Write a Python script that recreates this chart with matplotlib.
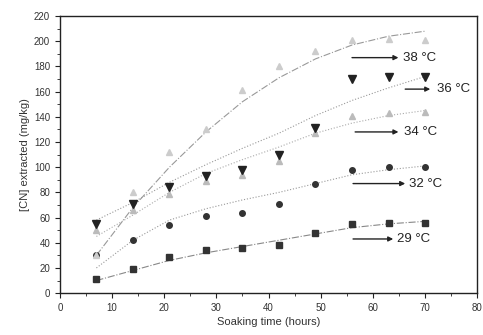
import numpy as np
import matplotlib
matplotlib.use("Agg")
import matplotlib.pyplot as plt
from matplotlib.ticker import MultipleLocator

plt.rcParams['font.family'] = ['Liberation Sans', 'DejaVu Sans']

# soaking time (hours)
t = [7, 14, 21, 28, 35, 42, 49, 56, 63, 70]

# measured [CN] extracted (mg/kg)
cn_29 = [11, 19, 29, 34, 36, 38, 48, 55, 56, 56]
cn_32 = [30, 42, 54, 61, 64, 71, 87, 98, 100, 100]
cn_34 = [50, 66, 79, 89, 94, 105, 127, 141, 143, 144]
cn_36 = [55, 71, 84, 93, 98, 110, 131, 170, 172, 172]
cn_38 = [30, 80, 112, 130, 161, 180, 192, 201, 202, 201]

# fitted curves
fit_29 = [10, 18, 26, 32, 37, 42, 47, 52, 55, 57]
fit_32 = [20, 42, 58, 67, 74, 80, 87, 94, 98, 101]
fit_34 = [45, 62, 80, 95, 106, 116, 127, 135, 141, 145]
fit_36 = [58, 72, 88, 102, 115, 127, 141, 153, 163, 172]
fit_38 = [30, 68, 100, 128, 152, 171, 186, 197, 204, 208]

labels = ['29 °C', '32 °C', '34 °C', '36 °C', '38 °C']
# arrow start x, arrow end x, y, text x
arrow_x0 = [56.2, 56.2, 56.6, 66.2, 56.0]
arrow_x1 = [63.9, 66.2, 64.9, 71.0, 64.9]
arrow_y = [43, 87, 128, 162, 187]
text_x = [64.6, 67.0, 66.0, 72.2, 65.8]

fig = plt.figure(figsize=(4.83, 3.35), dpi=100)
ax = fig.add_axes([0.124, 0.125, 0.864, 0.827])

ax.plot(t, fit_29, color='#888888', lw=0.8, ls='-.')
ax.plot(t, fit_32, color='#999999', lw=0.8, ls=':')
ax.plot(t, fit_34, color='#aaaaaa', lw=0.8, ls=':')
ax.plot(t, fit_36, color='#999999', lw=0.8, ls=':')
ax.plot(t, fit_38, color='#999999', lw=0.8, ls='-.')

ax.plot(t, cn_29, 's', color='#333333', ms=4.5, ls='none')
ax.plot(t, cn_32, 'o', color='#333333', ms=4, ls='none')
ax.plot(t, cn_34, '^', color='#bbbbbb', ms=4, ls='none')
ax.plot(t, cn_38, '^', color='#cccccc', ms=4, ls='none')
ax.plot(t, cn_36, 'v', color='#222222', ms=5.5, ls='none')

for lab, x0, x1, y, tx in zip(labels, arrow_x0, arrow_x1, arrow_y, text_x):
    ax.annotate('', xy=(x1, y), xytext=(x0, y),
                arrowprops=dict(arrowstyle='-|>', color='#222222', lw=1.0,
                                mutation_scale=7, shrinkA=0, shrinkB=0))
    ax.text(tx, y, lab, fontsize=9.5, va='center', ha='left', color='#222222')

ax.set_xlim(0, 80)
ax.set_ylim(0, 220)
ax.xaxis.set_major_locator(MultipleLocator(10))
ax.xaxis.set_minor_locator(MultipleLocator(5))
ax.yaxis.set_major_locator(MultipleLocator(20))
ax.yaxis.set_minor_locator(MultipleLocator(10))
ax.tick_params(which='both', direction='out', labelsize=7, color='#222222',
               labelcolor='#333333')
ax.tick_params(which='major', length=3.5)
ax.tick_params(which='minor', length=2)
for s in ax.spines.values():
    s.set_color('#222222')
    s.set_linewidth(1.0)

ax.set_xlabel('Soaking time (hours)', fontsize=8, color='#333333', labelpad=3)
ax.set_ylabel('[CN] extracted (mg/kg)', fontsize=8, color='#333333', labelpad=3)

fig.savefig('out.png', dpi=100)
